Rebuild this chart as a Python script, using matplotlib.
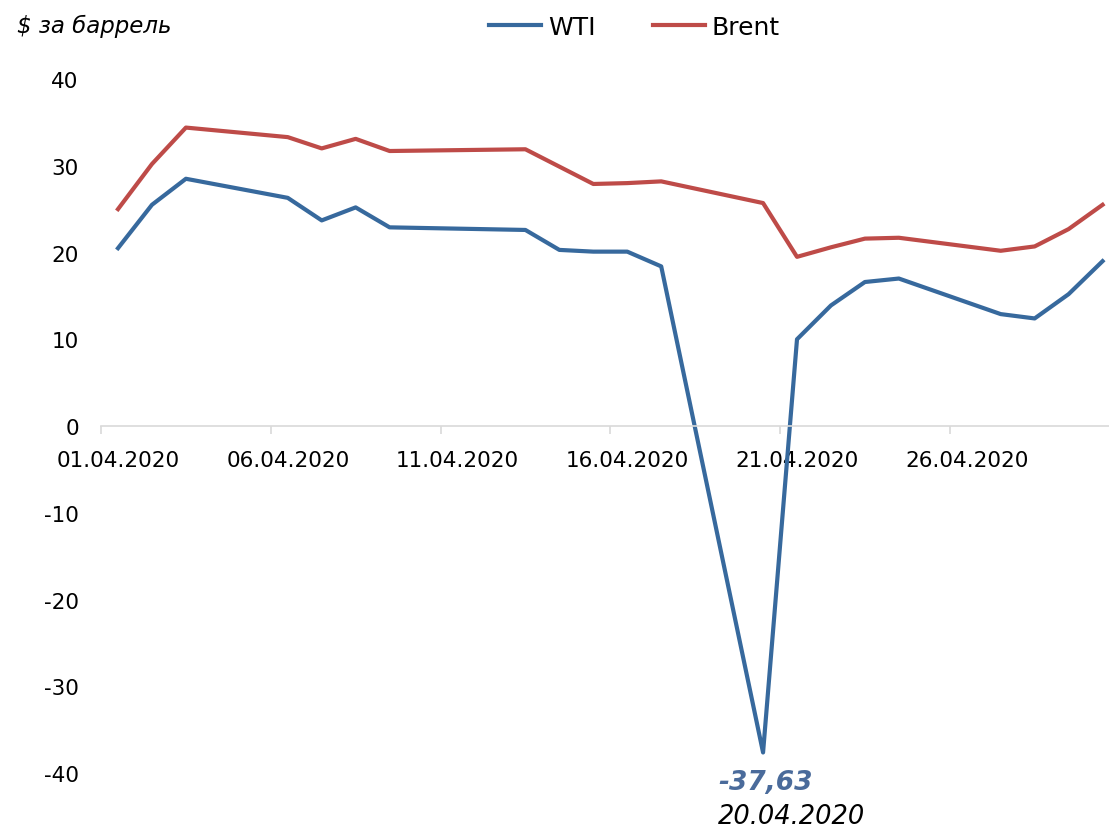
import matplotlib.pyplot as plt

days  = [1, 2, 3, 6, 7, 8, 9, 13, 14, 15, 16, 17, 20, 21, 22, 23, 24, 27, 28, 29, 30]
wti   = [20.5, 25.5, 28.5, 26.3, 23.7, 25.2, 22.9, 22.6, 20.3, 20.1, 20.1, 18.4,
         -37.63, 10.0, 13.9, 16.6, 17.0, 12.9, 12.4, 15.2, 19.0]
brent = [25.0, 30.2, 34.4, 33.3, 32.0, 33.1, 31.7, 31.9, 29.9, 27.9, 28.0, 28.2,
         25.7, 19.5, 20.6, 21.6, 21.7, 20.2, 20.7, 22.7, 25.5]
label_days = [1, 6, 11, 16, 21, 26]
label_text = ["01.04.2020", "06.04.2020", "11.04.2020", "16.04.2020", "21.04.2020", "26.04.2020"]
y_ticks = [-40, -30, -20, -10, 0, 10, 20, 30, 40]

WTI_C   = "#37699d"
BRENT_C = "#be4b48"

fig = plt.figure(figsize=(11.09, 8.29), dpi=100)
ax = fig.add_axes([0.0911, 0.0663, 0.9184, 0.8372])

ax.plot(days, wti, color=WTI_C, lw=3.0, label="WTI", solid_joinstyle="round")
ax.plot(days, brent, color=BRENT_C, lw=3.0, label="Brent", solid_joinstyle="round")

ax.set_xlim(0.5, 30.5)
ax.set_ylim(-40, 40)

for s in ["top", "right", "left"]:
    ax.spines[s].set_visible(False)
ax.spines["bottom"].set_position(("data", 0))
ax.spines["bottom"].set_color("#d9d9d9")
ax.spines["bottom"].set_linewidth(1.2)

ax.set_xticks(label_days)
ax.set_xticklabels(label_text, fontsize=15.5)
ax.tick_params(axis="x", which="major", length=0, pad=17)
ax.set_xticks([d - 0.5 for d in label_days], minor=True)
ax.tick_params(axis="x", which="minor", length=6, color="#d9d9d9", width=1.2)

ax.set_yticks(y_ticks)
ax.set_yticklabels([str(v) for v in y_ticks], fontsize=15.5)
ax.tick_params(axis="y", length=0, pad=16)

# подпись минимума WTI
ax.text(18.67, -41.0, "-37,63", color="#4a6b9b", fontsize=19, fontweight="bold",
        style="italic", ha="left", va="center", clip_on=False)
ax.text(18.67, -45.0, "20.04.2020", color="black", fontsize=18.5,
        style="italic", ha="left", va="center", clip_on=False)

fig.text(0.015, 0.968, "$ за баррель", fontsize=16.5, style="italic", ha="left", va="center")

fig.legend(loc="center", bbox_to_anchor=(0.572, 0.966), ncol=2, frameon=False,
           fontsize=18, handlelength=2.1, columnspacing=2.3, handletextpad=0.25)

fig.savefig("out.png", dpi=100)
